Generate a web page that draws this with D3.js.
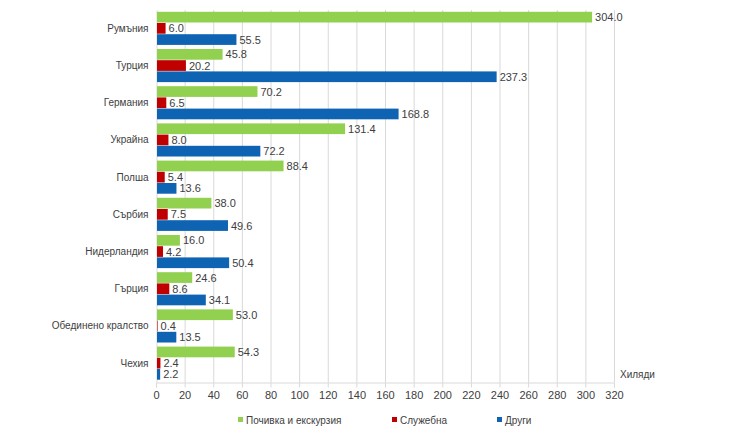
<!DOCTYPE html>
<html>
<head>
<meta charset="utf-8">
<script src="https://cdn.jsdelivr.net/npm/d3@7/dist/d3.min.js"></script>
<style>
  html, body { margin: 0; padding: 0; background: #fff; }
  svg { display: block; font-family: "Liberation Sans", "DejaVu Sans", sans-serif; }
</style>
</head>
<body>
<svg id="chart" width="740" height="444"></svg>
<script>
const categories = ["Румъния", "Турция", "Германия", "Украйна", "Полша", "Сърбия", "Нидерландия", "Гърция", "Обединено кралство", "Чехия"];
const seriesNames = ["Почивка и екскурзия", "Служебна", "Други"];
const leisure = [304.0, 45.8, 70.2, 131.4, 88.4, 38.0, 16.0, 24.6, 53.0, 54.3];
const business = [6.0, 20.2, 6.5, 8.0, 5.4, 7.5, 4.2, 8.6, 0.4, 2.4];
const other = [55.5, 237.3, 168.8, 72.2, 13.6, 49.6, 50.4, 34.1, 13.5, 2.2];
const xTicks = [0, 20, 40, 60, 80, 100, 120, 140, 160, 180, 200, 220, 240, 260, 280, 300, 320];
const axisUnit = "Хиляди";
const colors = ["#92D050", "#C00000", "#0F63B3"];

const seriesValues = [leisure, business, other];
const svg = d3.select("#chart");
const mLeft = 156, mRight = 614, mTop = 10, mBottom = 382;

const x = d3.scaleLinear().domain([0, 320]).range([mLeft, mRight]);
const y = d3.scaleBand().domain(categories).range([mTop, mBottom]).padding(0);
const ySub = d3.scaleBand().domain(d3.range(3)).range([0, y.bandwidth()]).paddingInner(0).paddingOuter(0.16);

// gridlines
svg.append("g").selectAll("line").data(xTicks.filter(t => t > 0)).join("line")
  .attr("x1", d => x(d) + 0.5).attr("x2", d => x(d) + 0.5)
  .attr("y1", mTop).attr("y2", mBottom)
  .attr("stroke", "#d9d9d9").attr("stroke-width", 1);

// x axis
const xAxis = svg.append("g").attr("transform", `translate(0,${mBottom + 0.5})`)
  .call(d3.axisBottom(x).tickValues(xTicks).tickSize(5).tickPadding(4).tickFormat(d3.format("d")));
xAxis.select(".domain").attr("stroke", "#d9d9d9");
xAxis.selectAll(".tick line").attr("stroke", "#d9d9d9");
xAxis.selectAll(".tick text").attr("fill", "#404040").attr("font-size", 11);

// y axis
const yAxis = svg.append("g").attr("transform", `translate(${mLeft + 0.5},0)`)
  .call(d3.axisLeft(y).tickSize(0).tickPadding(8));
yAxis.select(".domain").attr("stroke", "#d9d9d9");
yAxis.selectAll(".tick text").attr("fill", "#404040").attr("font-size", 10);

// bars
const rows = [];
categories.forEach((c, i) => {
  seriesValues.forEach((vals, s) => rows.push({ cat: c, s, v: vals[i] }));
});

svg.append("g").selectAll("rect").data(rows).join("rect")
  .attr("x", x(0) + 1)
  .attr("y", d => y(d.cat) + ySub(d.s))
  .attr("width", d => Math.max(0, x(d.v) - x(0)))
  .attr("height", ySub.bandwidth() - 0.5)
  .attr("fill", d => colors[d.s]);

svg.append("g").selectAll("text").data(rows).join("text")
  .attr("x", d => x(d.v) + 4)
  .attr("y", d => y(d.cat) + ySub(d.s) + ySub.bandwidth() / 2)
  .attr("dy", "0.35em")
  .attr("font-size", 11)
  .attr("fill", "#404040")
  .text(d => d3.format(".1f")(d.v));

// axis unit
svg.append("text").attr("x", 620).attr("y", 378)
  .attr("font-size", 10).attr("fill", "#404040").text(axisUnit);

// legend
const legendX = [238, 392, 497];
const lg = svg.append("g").selectAll("g").data(seriesNames).join("g")
  .attr("transform", (d, i) => `translate(${legendX[i]},420)`);
lg.append("rect").attr("x", 0).attr("y", -3).attr("width", 5).attr("height", 5)
  .attr("fill", (d, i) => colors[i]);
lg.append("text").attr("x", 8).attr("y", 0).attr("dy", "0.35em")
  .attr("font-size", 10).attr("fill", "#404040").text(d => d);
</script>
</body>
</html>
